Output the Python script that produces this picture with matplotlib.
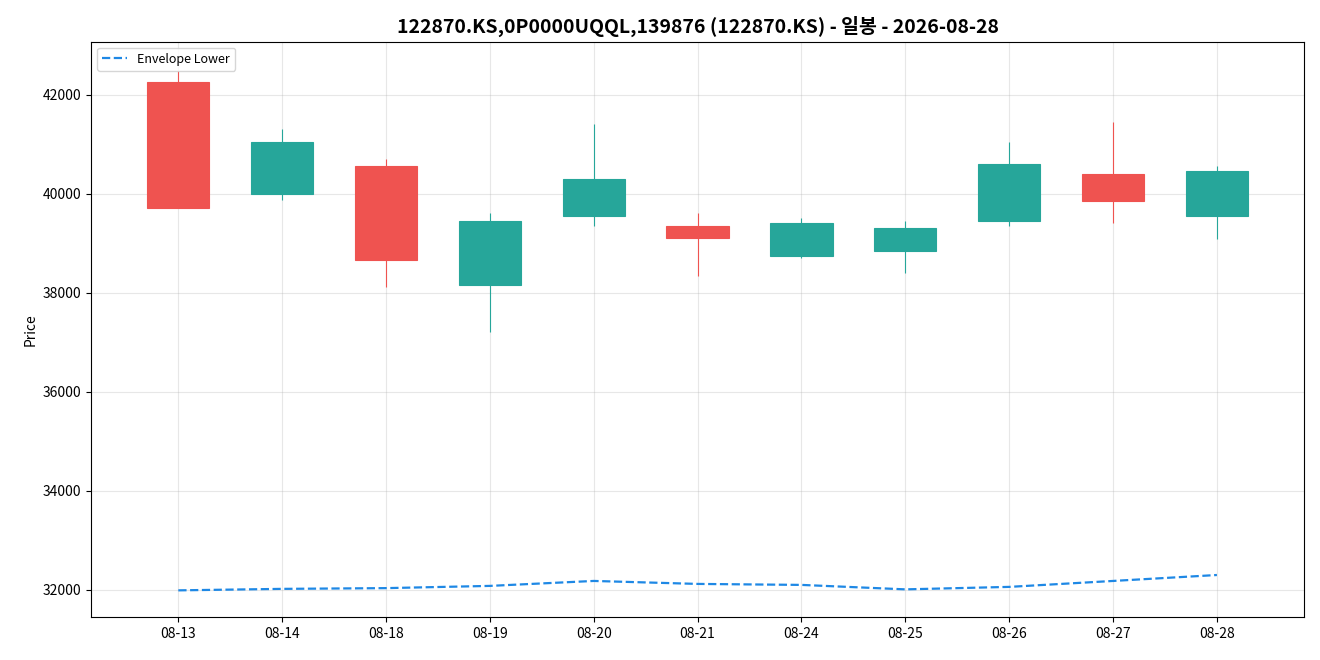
"""
Daily candles for 122870.KS with the lower envelope line.
"""
import matplotlib
matplotlib.use('Agg')
import matplotlib.pyplot as plt

plt.rcParams['font.family'] = ['Noto Sans CJK KR', 'DejaVu Sans']

# raw data
dates = ['08-13', '08-14', '08-18', '08-19', '08-20', '08-21',
         '08-24', '08-25', '08-26', '08-27', '08-28']
opens = [42250, 40000, 40550, 38150, 39550, 39350, 38750, 38850, 39450, 40400, 39550]
closes = [39700, 41050, 38650, 39450, 40300, 39100, 39400, 39300, 40600, 39850, 40450]
highs = [42480, 41300, 40700, 39600, 41400, 39600, 39500, 39450, 41050, 41450, 40550]
lows = [39700, 39880, 38120, 37200, 39350, 38330, 38700, 38400, 39350, 39400, 39080]
env_lower = [31990, 32020, 32035, 32080, 32180, 32120, 32100, 32010, 32060, 32180, 32300]

up_color = '#26a69a'
down_color = '#ef5350'

fig, ax = plt.subplots(figsize=(13.2, 6.6), dpi=100)

x = list(range(len(dates)))
for i in x:
    o, c, h, l = opens[i], closes[i], highs[i], lows[i]
    color = up_color if c >= o else down_color
    ax.vlines(i, l, h, color=color, linewidth=0.8, zorder=2)
    ax.bar(i, abs(c - o), bottom=min(o, c), width=0.6, color=color,
           edgecolor=color, linewidth=0.8, zorder=3)

ax.plot(x, env_lower, linestyle='--', color='#1e88e5', linewidth=1.6,
        label='Envelope Lower', zorder=4)

ax.set_xticks(x)
ax.set_xticklabels(dates)
ax.set_xlim(-0.84, 10.84)
ax.set_ylim(31450, 43070)
ax.set_ylabel('Price')
ax.set_title('122870.KS,0P0000UQQL,139876 (122870.KS) - 일봉 - 2026-08-28',
             fontsize=14, fontweight='bold')
ax.grid(True, alpha=0.3)
ax.legend(loc='upper left', fontsize=9)

plt.subplots_adjust(left=0.069, right=0.988, top=0.937, bottom=0.065)
plt.savefig('out.png')
